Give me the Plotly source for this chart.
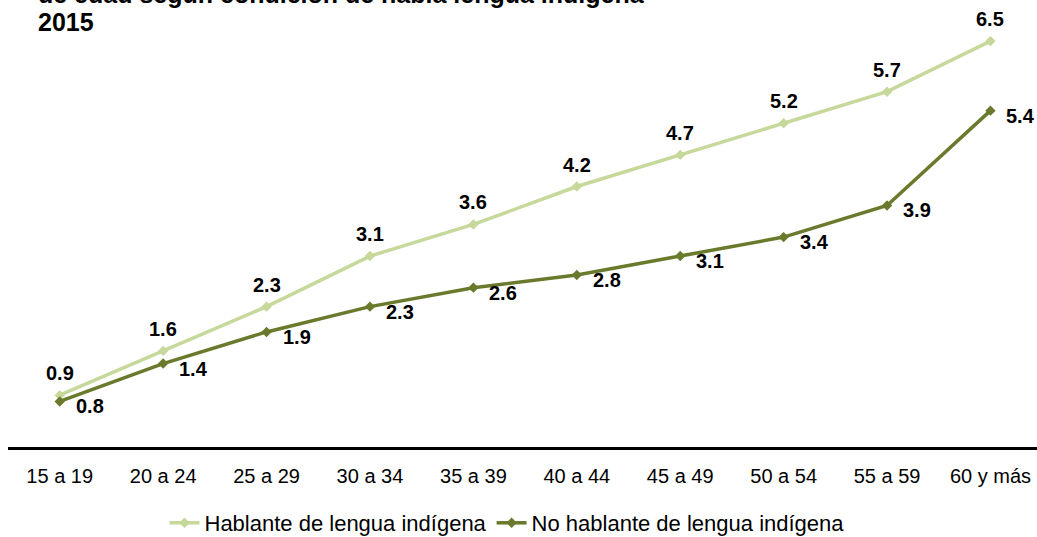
import plotly.graph_objects as go

# Grupos quinquenales de edad
grupos = ["15 a 19", "20 a 24", "25 a 29", "30 a 34", "35 a 39",
          "40 a 44", "45 a 49", "50 a 54", "55 a 59", "60 y más"]

hablante = [0.9, 1.6, 2.3, 3.1, 3.6, 4.2, 4.7, 5.2, 5.7, 6.5]
no_hablante = [0.8, 1.4, 1.9, 2.3, 2.6, 2.8, 3.1, 3.4, 3.9, 5.4]

nombres = ["Hablante de lengua indígena", "No hablante de lengua indígena"]
colores = ["#c6d89a", "#6a7a2c"]

titulo = ["de edad según condición de habla lengua indígena", "2015"]

FONT = "Liberation Sans, Arial, sans-serif"

fig = go.Figure()
for nombre, valores, color in zip(nombres, [hablante, no_hablante], colores):
    fig.add_trace(go.Scatter(
        x=grupos, y=valores, name=nombre, mode="lines+markers",
        line=dict(color=color, width=3.5),
        marker=dict(symbol="diamond", size=8, color=color),
        hoverinfo="skip",
    ))

# Etiquetas de valores: arriba para hablantes, a la derecha para no hablantes
for g, v in zip(grupos, hablante):
    fig.add_annotation(x=g, y=v, text=f"<b>{v:.1f}</b>", showarrow=False,
                       xanchor="center", yanchor="middle", yshift=22,
                       font=dict(family=FONT, size=20, color="#000000"))
for g, v in zip(grupos, no_hablante):
    fig.add_annotation(x=g, y=v, text=f"<b>{v:.1f}</b>", showarrow=False,
                       xanchor="left", yanchor="middle", xshift=14, yshift=-5,
                       font=dict(family=FONT, size=20, color="#000000"))

# Título en dos líneas (la primera queda parcialmente fuera del borde superior)
for linea, y_px in zip(titulo, [10, 38]):
    fig.add_annotation(
        text=f"<b>{linea}</b>",
        xref="paper", yref="paper",
        x=(36 - 8) / 1029, xanchor="left",
        y=(447 - y_px) / 447, yanchor="bottom",
        align="left", showarrow=False,
        font=dict(family=FONT, size=25, color="#000000"),
    )

fig.update_layout(
    width=1037, height=537,
    margin=dict(l=8, r=0, t=0, b=90),
    paper_bgcolor="white", plot_bgcolor="white",
    font=dict(family=FONT, color="#000000"),
    showlegend=True,
    legend=dict(
        orientation="h",
        xref="container", yref="container",
        x=507 / 1037, xanchor="center",
        y=14 / 537, yanchor="middle",
        font=dict(family=FONT, size=22, color="#000000"),
        bgcolor="rgba(0,0,0,0)",
    ),
    xaxis=dict(
        type="category",
        range=[-0.5, 9.45],
        showgrid=False, zeroline=False,
        showline=True, linecolor="#000000", linewidth=3,
        ticks="", ticklabelstandoff=9,
        tickfont=dict(family=FONT, size=20, color="#000000"),
        fixedrange=True,
    ),
    yaxis=dict(
        range=[0.08, 7.15],
        showgrid=False, zeroline=False, showline=False,
        showticklabels=False, ticks="",
        fixedrange=True,
    ),
)

fig.write_html("out.html")
